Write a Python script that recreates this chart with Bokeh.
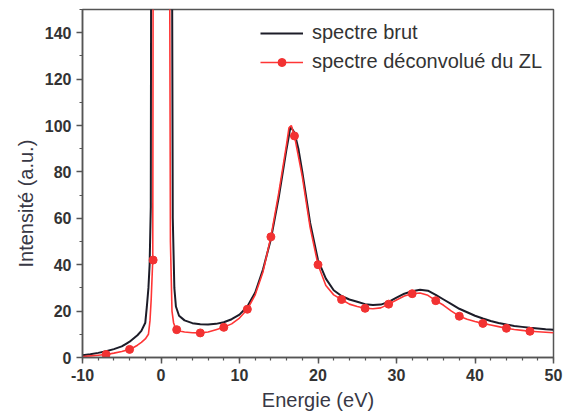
from bokeh.plotting import figure
from bokeh.models import SingleIntervalTicker, Range1d, Legend, LegendItem, Title
from bokeh.embed import file_html
from bokeh.resources import INLINE

# spectre brut (black)
brut_x = [-10, -9, -8, -7, -6, -5, -4.4, -4, -3.5, -3, -2.5, -2, -1.8, -1.6, -1.45, -1.3, -1.2,
          1.3, 1.5, 1.7, 1.9, 2.3, 3, 4, 5, 6, 7, 8, 9, 10, 11, 12, 13, 14, 15, 16, 16.5, 17, 17.5,
          18, 19, 20, 21, 22, 23, 24, 25, 26, 27, 28, 29, 30, 31, 32, 33, 34, 35, 36, 37, 38, 39,
          40, 41, 42, 43, 44, 45, 46, 47, 48, 49, 50]
brut_y = [1.0, 1.4, 2.0, 2.7, 3.6, 4.8, 6.0, 6.8, 8.2, 9.6, 11.5, 15, 22, 30, 40, 65, 300,
          300, 60, 30, 22, 18, 16, 14.8, 14.3, 14.2, 14.5, 15.2, 16.5, 18.5, 22, 28, 38, 51, 69, 90, 99.5, 97, 90,
          80, 58, 42, 34, 29, 26.5, 25, 24, 23, 22.6, 22.8, 24, 25.8, 27.5, 28.6, 29.2, 28.8, 27, 25, 23, 21, 19.5,
          18, 16.8, 15.7, 14.9, 14.2, 13.6, 13.2, 12.8, 12.5, 12.2, 12.0]

# spectre déconvolué du ZL (red line)
deconv_x = [-10, -9, -8, -7, -6, -5, -4, -3.5, -3, -2.5, -2, -1.6, -1.4, -1.25, -1.05, -0.95,
            1.0, 1.2, 1.4, 1.6, 1.8, 2, 2.5, 3, 4, 5, 6, 7, 8, 9, 10, 11, 12, 13, 14, 15, 16, 16.3, 16.6,
            17, 18, 19, 20, 21, 22, 23, 24, 25, 26, 27, 28, 29, 30, 31, 32, 33, 34, 35, 36, 37, 38, 39,
            40, 41, 42, 43, 44, 45, 46, 47, 48, 49, 50]
deconv_y = [0.4, 0.7, 1.0, 1.3, 1.9, 2.6, 3.5, 4.3, 5.3, 6.5, 8.0, 10, 16, 25, 42, 300,
            300, 50, 20, 15, 13, 12, 11.3, 11, 10.7, 10.6, 11, 12, 13, 14.5, 17, 20.8, 27, 37, 52, 71, 92, 99, 100,
            95.5, 78, 56, 40, 31, 27, 25, 23, 22, 21.2, 21, 21.4, 23, 24.8, 26.5, 27.5, 27.8, 26.8, 24.5, 22.5, 20, 17.8, 16.5,
            15.5, 14.7, 14, 13.3, 12.6, 12.1, 11.7, 11.3, 11.1, 10.9, 10.7]

# markers on the red curve
mark_x = [-7, -4, -1, 2, 5, 8, 11, 14, 17, 20, 23, 26, 29, 32, 35, 38, 41, 44, 47]
mark_y = [1.3, 3.5, 42, 12, 10.6, 13, 20.8, 52, 95.5, 40, 25, 21.2, 23, 27.5, 24.5, 17.8, 14.7, 12.6, 11.3]

x_label = "Energie (eV)"
y_label = "Intensité (a.u.)"

p = figure(width=565, height=418, output_backend="svg", toolbar_location=None,
           x_range=Range1d(-10, 50), y_range=Range1d(0, 150),
           min_border_left=82, min_border_right=12, min_border_top=9, min_border_bottom=61)
p.background_fill_color = "white"
p.border_fill_color = "white"
p.grid.visible = False
p.outline_line_color = "#555555"
p.outline_line_width = 1.5

p.xaxis.ticker = SingleIntervalTicker(interval=10, num_minor_ticks=5)
p.yaxis.ticker = SingleIntervalTicker(interval=20, num_minor_ticks=2)
p.xaxis.major_label_overrides = {-10: "-10"}

for ax in (p.xaxis[0], p.yaxis[0]):
    ax.axis_line_color = "#555555"
    ax.axis_line_width = 1.5
    ax.major_tick_line_color = "#555555"
    ax.major_tick_line_width = 1.5
    ax.minor_tick_line_color = "#555555"
    ax.minor_tick_line_width = 1.2
    ax.major_tick_in = 0
    ax.major_tick_out = 6
    ax.minor_tick_in = 0
    ax.minor_tick_out = 3
    ax.major_label_text_font = "Liberation Sans"
    ax.major_label_text_font_style = "bold"
    ax.major_label_text_font_size = "16px"
    ax.major_label_text_color = "#333333"
    ax.axis_label_text_font = "Liberation Sans"
    ax.axis_label_text_font_style = "normal"
    ax.axis_label_text_font_size = "20px"
    ax.axis_label_text_color = "#383845"

p.xaxis.axis_label = x_label

ytitle = Title(text=y_label, align="left", offset=90, text_font="Liberation Sans",
               text_font_size="20px", text_font_style="normal", text_color="#383845")
p.add_layout(ytitle, "left")

r_brut = p.line(brut_x, brut_y, line_color="#1c1c28", line_width=2)
r_dec = p.line(deconv_x, deconv_y, line_color="#ff3535", line_width=1.6)
r_mark = p.scatter(mark_x, mark_y, marker="circle", size=8, fill_color="#f23232", line_color="#f23232")

legend = Legend(items=[LegendItem(label="spectre brut", renderers=[r_brut]),
                       LegendItem(label="spectre déconvolué du ZL", renderers=[r_dec, r_mark])],
                location=(178, 284))
legend.padding = 0
legend.margin = 0
legend.border_line_alpha = 0
legend.background_fill_alpha = 0
legend.glyph_width = 43
legend.glyph_height = 20
legend.label_height = 20
legend.label_standoff = 9
legend.spacing = 6
legend.label_text_font = "Liberation Sans"
legend.label_text_font_size = "20px"
legend.label_text_color = "#333333"
p.add_layout(legend, "center")

open("out.html", "w").write(file_html(p, INLINE))
